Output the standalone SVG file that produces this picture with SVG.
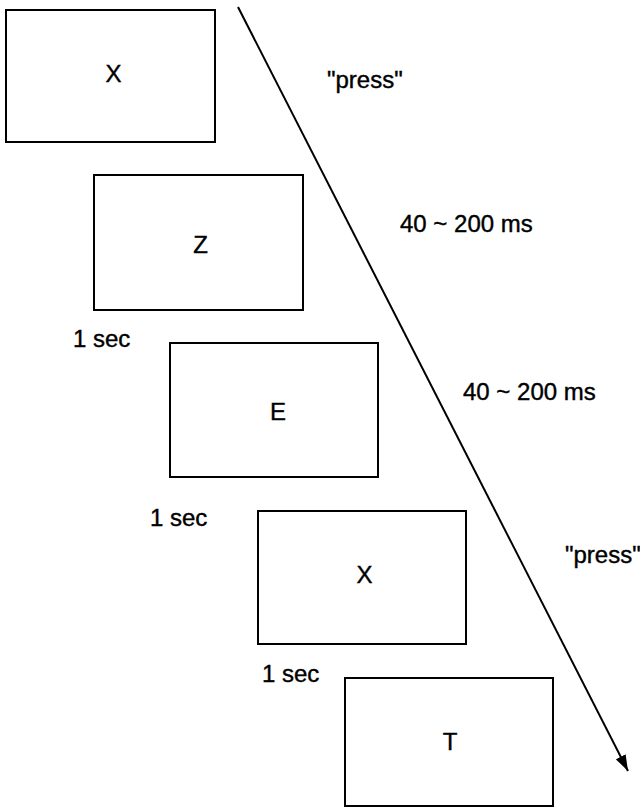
<svg xmlns="http://www.w3.org/2000/svg" width="640" height="808" viewBox="0 0 640 808">
<style>
.box{fill:#fff;stroke:#000;stroke-width:2}
.lbl{font-family:"Liberation Sans",Arial,sans-serif;font-size:24px;fill:#000;stroke:#000;stroke-width:0.4}
.c{text-anchor:middle}
.conn{stroke:#000;stroke-width:2;fill:none}
</style>
<defs>
<marker id="ah" markerUnits="userSpaceOnUse" markerWidth="17" markerHeight="11" refX="16" refY="5.5" orient="auto">
<path d="M0,0 L16,5.5 L0,11 z" fill="#000"/>
</marker>
</defs>
<rect width="640" height="808" fill="#fff"/>
<g id="frame1"><rect class="box" x="6" y="10" width="209" height="132"/><text class="lbl c" x="113.5" y="82">X</text></g>
<g id="frame2"><rect class="box" x="94" y="175" width="209" height="135"/><text class="lbl c" x="200.5" y="253">Z</text></g>
<g id="frame3"><rect class="box" x="170" y="343" width="208" height="134"/><text class="lbl c" x="278" y="420">E</text></g>
<g id="frame4"><rect class="box" x="258" y="511" width="208" height="133"/><text class="lbl c" x="364.5" y="583">X</text></g>
<g id="frame5"><rect class="box" x="345" y="678" width="208" height="128"/><text class="lbl c" x="450" y="750">T</text></g>
<g id="connectors">
<line class="conn" x1="238" y1="7" x2="628" y2="771" marker-end="url(#ah)"/>
</g>
<g id="labels">
<text class="lbl" x="327" y="88">"press"</text>
<text class="lbl" x="400" y="232">40 ~ 200 ms</text>
<text class="lbl" x="463" y="400">40 ~ 200 ms</text>
<text class="lbl" x="565" y="563">"press"</text>
<text class="lbl" x="73" y="347">1 sec</text>
<text class="lbl" x="150" y="526">1 sec</text>
<text class="lbl" x="262" y="682">1 sec</text>
</g>
</svg>
